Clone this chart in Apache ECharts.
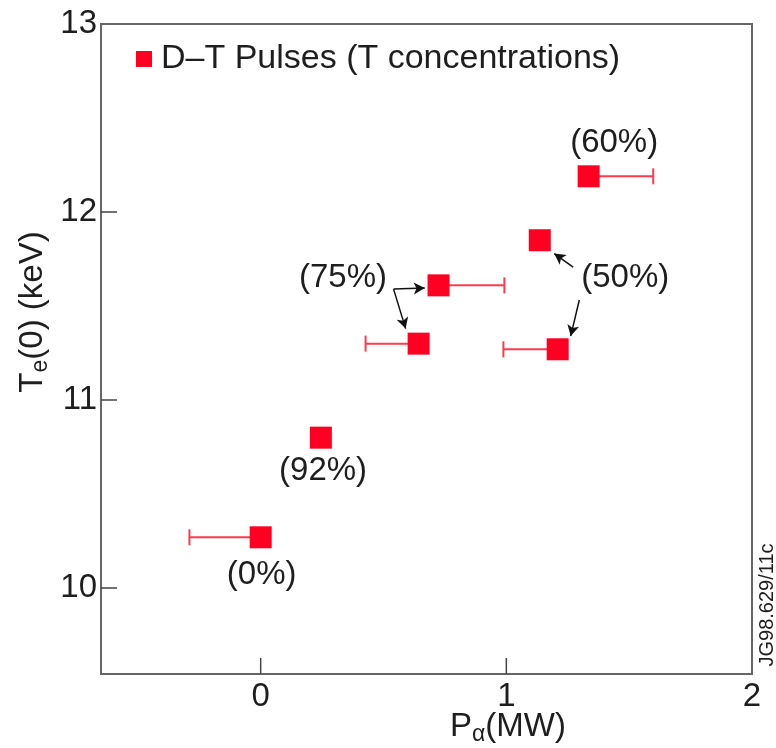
<!DOCTYPE html>
<html>
<head>
<meta charset="utf-8">
<script src="https://cdn.jsdelivr.net/npm/echarts@6/dist/echarts.min.js"></script>
<style>
  html, body { margin: 0; padding: 0; background: #fff; }
  #chart { width: 776px; height: 748px; }
</style>
</head>
<body>
<div id="chart"></div>
<script>
// Central electron temperature vs alpha power for D–T pulses
const tConcentration = ['0%', '92%', '75%', '75%', '50%', '50%', '60%'];
const pAlpha = [0.000, 0.245, 0.643, 0.724, 1.136, 1.209, 1.335];
const te0 = [10.27, 10.80, 11.30, 11.61, 11.85, 11.27, 12.19];
// one-sided horizontal error bars (null = no bar on that side)
const pAlphaErrLow = [-0.29, null, 0.427, null, null, 0.988, null];
const pAlphaErrHigh = [null, null, null, 0.992, null, null, 1.598];

// concentration notes and their anchor positions (data units)
const noteText = ['(0%)', '(92%)', '(75%)', '(50%)', '(60%)'];
const noteX = [0.004, 0.254, 0.335, 1.484, 1.439];
const noteY = [10.069, 10.622, 11.652, 11.652, 12.37];

// pointer arrows: [x0, y0, x1, y1]
const arrows = [
  [0.541, 11.590, 0.668, 11.596],
  [0.541, 11.590, 0.590, 11.380],
  [1.272, 11.707, 1.195, 11.779],
  [1.297, 11.532, 1.262, 11.340]
];

const xTickLabels = [0, 1, 2];
const xTickMarks = [0, 1];
const yTickLabels = [10, 11, 12, 13];
const yTickMarks = [10, 11, 12];

const RED = '#ff0022';
const BAR = '#ff3a4c';
const INK = '#1e1e1e';
const FRAME = '#666666';
const TICK = '#444444';
const FONT = 'Liberation Sans, Arial, sans-serif';

const chart = echarts.init(document.getElementById('chart'), null, { renderer: 'canvas' });

const points = pAlpha.map((x, i) => [x, te0[i], pAlphaErrLow[i], pAlphaErrHigh[i]]);

chart.setOption({
  animation: false,
  backgroundColor: '#fff',
  textStyle: { fontFamily: FONT },
  grid: {
    left: 101, right: 24, top: 24, bottom: 74,
    show: true, borderColor: FRAME, borderWidth: 2
  },
  legend: {
    left: 131, top: 37,
    itemWidth: 16, itemHeight: 16, icon: 'rect',
    data: ['D–T Pulses (T concentrations)'],
    textStyle: { fontFamily: FONT, fontSize: 34, color: INK, padding: [0, 0, 0, 4] }
  },
  xAxis: {
    type: 'value', min: -0.65, max: 2,
    axisLine: { show: true, onZero: false, lineStyle: { color: FRAME, width: 2 } },
    splitLine: { show: false },
    axisTick: { show: false },
    axisLabel: { customValues: xTickLabels, fontFamily: FONT, fontSize: 33, color: INK, margin: 6 }
  },
  yAxis: {
    type: 'value', min: 9.543, max: 13,
    axisLine: { show: true, onZero: false, lineStyle: { color: FRAME, width: 2 } },
    splitLine: { show: false },
    axisTick: { show: true, inside: true, length: 16, customValues: yTickMarks, lineStyle: { color: TICK, width: 1.5 } },
    axisLabel: { customValues: yTickLabels, fontFamily: FONT, fontSize: 33, color: INK, margin: 4 }
  },
  graphic: [
    {
      type: 'text', x: 508, y: 727,
      style: {
        text: '{m|P}{s|α}{m|(MW)}',
        align: 'center', verticalAlign: 'middle',
        rich: {
          m: { fontFamily: FONT, fontSize: 33, fill: INK },
          s: { fontFamily: FONT, fontSize: 23, fill: INK, padding: [16, 0, 0, 0] }
        }
      }
    },
    {
      type: 'text', x: 33, y: 312, rotation: Math.PI / 2,
      style: {
        text: '{m|T}{s|e}{m|(0) (keV)}',
        align: 'center', verticalAlign: 'middle',
        rich: {
          m: { fontFamily: FONT, fontSize: 33, fill: INK },
          s: { fontFamily: FONT, fontSize: 23, fill: INK, padding: [16, 0, 0, 0] }
        }
      }
    },
    {
      type: 'text', x: 767, y: 605, rotation: Math.PI / 2,
      style: {
        text: 'JG98.629/11c',
        align: 'center', verticalAlign: 'middle',
        fontFamily: FONT, fontSize: 20, fill: INK
      }
    }
  ],
  series: [
    {
      // inward tick marks on the bottom axis
      type: 'custom',
      name: 'xticks',
      z: 1,
      silent: true,
      clip: false,
      data: xTickMarks.map(v => [v]),
      encode: { x: 0 },
      renderItem: function (params, api) {
        const cs = params.coordSys;
        const px = api.coord([api.value(0), 10])[0];
        const bottom = cs.y + cs.height;
        return {
          type: 'line',
          shape: { x1: px, y1: bottom, x2: px, y2: bottom - 16 },
          style: { stroke: TICK, lineWidth: 1.5 }
        };
      }
    },
    {
      // error bars, drawn under the markers
      type: 'custom',
      name: 'errors',
      z: 2,
      silent: true,
      data: points,
      renderItem: function (params, api) {
        const y = api.value(1);
        const c = api.coord([api.value(0), y]);
        const children = [];
        [2, 3].forEach(function (k) {
          const v = api.value(k);
          if (v === null || v === undefined || isNaN(v)) return;
          const e = api.coord([v, y]);
          children.push({
            type: 'line',
            shape: { x1: c[0], y1: c[1], x2: e[0], y2: e[1] },
            style: { stroke: BAR, lineWidth: 2 }
          });
          children.push({
            type: 'line',
            shape: { x1: e[0], y1: e[1] - 8, x2: e[0], y2: e[1] + 8 },
            style: { stroke: BAR, lineWidth: 2 }
          });
        });
        return { type: 'group', children: children };
      }
    },
    {
      type: 'scatter',
      name: 'D–T Pulses (T concentrations)',
      z: 5,
      symbol: 'rect',
      symbolSize: 22,
      itemStyle: { color: RED, opacity: 1 },
      data: points.map(p => [p[0], p[1]])
    },
    {
      // concentration notes and pointer arrows
      type: 'scatter',
      name: 'notes',
      z: 6,
      silent: true,
      symbolSize: 0,
      itemStyle: { opacity: 1 },
      data: noteText.map((t, i) => ({ value: [noteX[i], noteY[i]], name: t })),
      label: {
        show: true, position: 'inside',
        formatter: p => p.name,
        fontFamily: FONT, fontSize: 33, color: INK, opacity: 1
      },
      markLine: {
        silent: true,
        symbol: ['none', 'arrow'],
        symbolSize: [9, 11],
        label: { show: false },
        lineStyle: { color: '#111', width: 1.5, type: 'solid', opacity: 1 },
        emphasis: { disabled: true },
        data: arrows.map(a => [{ coord: [a[0], a[1]] }, { coord: [a[2], a[3]] }])
      }
    }
  ]
});
</script>
</body>
</html>
